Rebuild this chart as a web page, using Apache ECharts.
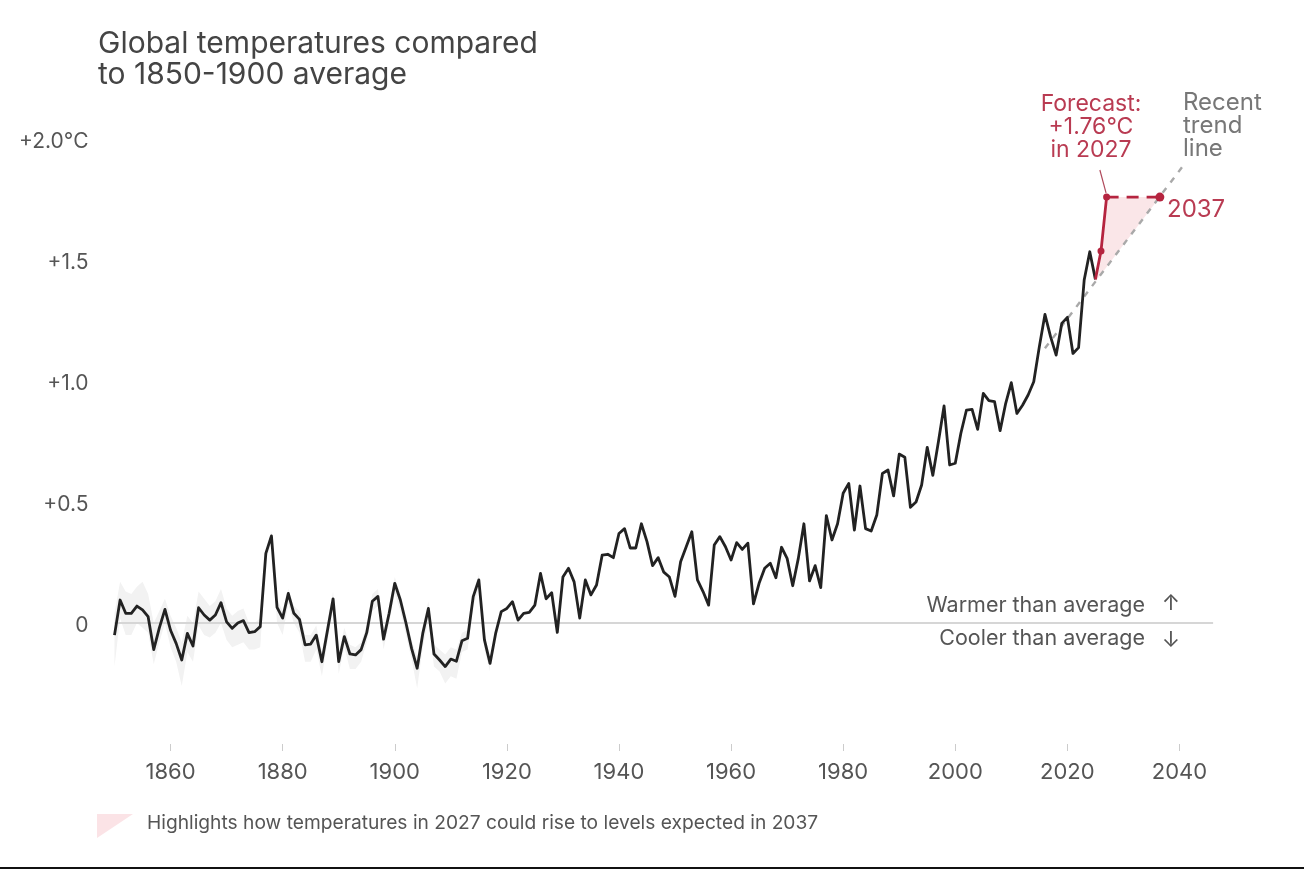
<!DOCTYPE html>
<html>
<head>
<meta charset="utf-8">
<title>Global temperatures</title>
<script src="https://cdn.jsdelivr.net/npm/echarts@6/dist/echarts.min.js"></script>
<style>
html, body { margin: 0; padding: 0; background: #fff; }
#chart { width: 1304px; height: 869px; }
</style>
</head>
<body>
<div id="chart"></div>
<script>
const firstYear = 1850;
// yearly anomaly
const temps = [
    -0.05, 0.095, 0.04, 0.04, 0.07, 0.054, 0.026, -0.11, -0.02, 0.056,
    -0.03, -0.084, -0.153, -0.043, -0.095, 0.063, 0.033, 0.012, 0.033, 0.084,
    0.005, -0.022, 0, 0.01, -0.04, -0.036, -0.015, 0.288, 0.36, 0.065,
    0.02, 0.122, 0.04, 0.015, -0.09, -0.087, -0.05, -0.16, -0.03, 0.10,
    -0.16, -0.056, -0.128, -0.132, -0.11, -0.04, 0.09, 0.11, -0.067, 0.04,
    0.164, 0.095, 0, -0.105, -0.187, -0.043, 0.06, -0.128, -0.153, -0.18,
    -0.149, -0.158, -0.073, -0.063, 0.109, 0.178, -0.07, -0.167, -0.043, 0.047,
    0.06, 0.088, 0.012, 0.04, 0.044, 0.074, 0.205, 0.10, 0.125, -0.039,
    0.19, 0.226, 0.17, 0.02, 0.178, 0.116, 0.157, 0.28, 0.284, 0.27,
    0.37, 0.39, 0.31, 0.31, 0.41, 0.336, 0.237, 0.27, 0.21, 0.19,
    0.11, 0.253, 0.315, 0.377, 0.178, 0.13, 0.074, 0.322, 0.357, 0.315,
    0.26, 0.332, 0.304, 0.33, 0.079, 0.164, 0.226, 0.247, 0.187, 0.313,
    0.267, 0.154, 0.267, 0.41, 0.174, 0.237, 0.146, 0.444, 0.343, 0.41,
    0.536, 0.577, 0.384, 0.566, 0.39, 0.38, 0.446, 0.618, 0.632, 0.525,
    0.698, 0.685, 0.478, 0.50, 0.57, 0.726, 0.61, 0.75, 0.897, 0.653,
    0.66, 0.784, 0.88, 0.883, 0.80, 0.949, 0.919, 0.915, 0.795, 0.908,
    0.993, 0.866, 0.90, 0.942, 0.997, 1.142, 1.275, 1.183, 1.107, 1.238,
    1.263, 1.114, 1.138, 1.417, 1.534, 1.42
];
// uncertainty band, 1850-1917
const bandHigh = [
    0.04, 0.17, 0.13, 0.12, 0.15, 0.17, 0.12, 0, 0.05, 0.1,
    0.03, -0.02, -0.08, 0.03, 0, 0.13, 0.1, 0.07, 0.09, 0.14,
    0.06, 0.03, 0.05, 0.06, 0, 0, 0.02, 0.3, 0.38, 0.1,
    0.05, 0.14, 0.07, 0.05, -0.05, -0.05, -0.01, -0.12, 0.01, 0.13,
    -0.12, -0.02, -0.09, -0.1, -0.08, -0.01, 0.12, 0.14, -0.03, 0.07,
    0.19, 0.12, 0.03, -0.07, -0.14, -0.01, 0.09, -0.09, -0.11, -0.13,
    -0.1, -0.11, -0.04, -0.03, 0.13, 0.2, -0.04, -0.14
];
const bandLow = [
    -0.18, 0.02, -0.05, -0.05, 0, -0.02, -0.04, -0.17, -0.08, 0,
    -0.1, -0.16, -0.26, -0.12, -0.16, -0.01, -0.05, -0.06, -0.04, 0,
    -0.07, -0.1, -0.09, -0.08, -0.11, -0.11, -0.1, 0.26, 0.33, 0,
    -0.05, 0.08, 0, -0.04, -0.16, -0.16, -0.11, -0.22, -0.08, 0.06,
    -0.21, -0.1, -0.19, -0.19, -0.16, -0.08, 0.05, 0.07, -0.11, 0,
    0.12, 0.05, -0.05, -0.15, -0.27, -0.1, 0.01, -0.18, -0.2, -0.25,
    -0.22, -0.23, -0.12, -0.11, 0.07, 0.14, -0.11, -0.2
];
const forecast = [[2025, 1.42], [2026, 1.537], [2027, 1.76]];
const forecastLevel = [[2027, 1.76], [2036.5, 1.76]];
const leader = [[2025.8, 1.872], [2026.9, 1.777]];
const trend = [[2016, 1.135], [2041, 1.9]];
const highlight = [[2025, 1.42], [2026, 1.537], [2027, 1.76], [2036.5, 1.76], [2025, 1.41]];
const zeroLine = [[1850, 0], [2046, 0]];
const xTicks = [1860, 1880, 1900, 1920, 1940, 1960, 1980, 2000, 2020, 2040];
const yTicks = [0, 0.5, 1, 1.5, 2];
const yTickLabels = ['0', '+0.5', '+1.0', '+1.5', '+2.0°C'];

const FONT = 'Inter, "Noto Sans", sans-serif';
const TEXT = '#555555';
const RED = '#b5243f';

const chart = echarts.init(document.getElementById('chart'));
const tempData = temps.map((v, i) => [firstYear + i, v]);

function noteText(x, y, text, color, align, size) {
    return {
        type: 'text', x: x, y: y,
        style: {
            text: text, fill: color, font: (size || 23) + 'px ' + FONT,
            align: align, verticalAlign: 'middle', lineHeight: 23
        }
    };
}

chart.setOption({
    animation: false,
    title: {
        text: 'Global temperatures compared\nto 1850-1900 average',
        left: 98, top: 28, padding: 0,
        textStyle: { color: '#444', fontFamily: FONT, fontSize: 30, fontWeight: 'normal', lineHeight: 31 }
    },
    grid: { left: 114.5, top: 139, width: 1098.6, height: 605 },
    xAxis: {
        type: 'value', min: 1850, max: 2046,
        splitLine: { show: false },
        axisLine: { show: false, onZero: false },
        axisTick: { show: true, length: 7, customValues: xTicks, lineStyle: { color: '#cccccc' } },
        axisLabel: {
            customValues: xTicks, color: TEXT, fontFamily: FONT, fontSize: 22, margin: 17,
            formatter: v => String(v)
        }
    },
    yAxis: {
        type: 'value', min: -0.5, max: 2,
        splitLine: { show: false },
        axisLine: { show: false },
        axisTick: { show: false },
        axisLabel: {
            customValues: yTicks, color: TEXT, fontFamily: FONT, fontSize: 21, margin: 26,
            formatter: v => '{v|' + yTickLabels[yTicks.indexOf(v)] + '}',
            rich: { v: { color: TEXT, fontFamily: FONT, fontSize: 21, padding: [6, 0, 0, 0] } }
        }
    },
    series: [
        {
            // grey band around the early years
            type: 'custom', silent: true, z: 1, data: [[1850, 0]],
            renderItem: function (params, api) {
                const top = bandHigh.map((v, i) => api.coord([firstYear + i, v]));
                const bottom = bandLow.map((v, i) => api.coord([firstYear + i, v])).reverse();
                return { type: 'polygon', shape: { points: top.concat(bottom) }, style: { fill: '#f2f2f2' } };
            }
        },
        {
            // pink triangle
            type: 'custom', silent: true, z: 1, data: [[2025, 1.42]],
            renderItem: function (params, api) {
                return {
                    type: 'polygon',
                    shape: { points: highlight.map(p => api.coord(p)) },
                    style: { fill: '#fae6e8' }
                };
            }
        },
        {
            type: 'line', data: zeroLine, symbol: 'none', z: 2, silent: true,
            lineStyle: { color: '#d6d6d6', width: 2 }
        },
        {
            type: 'line', data: trend, symbol: 'none', z: 3, silent: true,
            lineStyle: { color: '#a9a9a9', width: 2.4, type: [6, 7] }
        },
        {
            type: 'line', data: tempData, symbol: 'none', z: 4, silent: true,
            lineStyle: { color: '#222222', width: 2.8, join: 'round' }
        },
        {
            type: 'line', data: forecast, symbol: 'none', z: 5, silent: true,
            lineStyle: { color: RED, width: 2.8 }
        },
        {
            type: 'line', data: forecastLevel, symbol: 'none', z: 5, silent: true,
            lineStyle: { color: RED, width: 2.6, type: [12, 8] }
        },
        {
            type: 'line', data: leader, symbol: 'none', z: 5, silent: true,
            lineStyle: { color: '#b04a5c', width: 1.2 }
        },
        {
            type: 'scatter', z: 6, silent: true, symbolSize: 7,
            data: [[2026, 1.537], [2027, 1.76]], itemStyle: { color: RED, opacity: 1 }
        },
        {
            type: 'scatter', z: 6, silent: true, symbolSize: 9,
            data: [[2036.5, 1.76]], itemStyle: { color: RED, opacity: 1 }
        }
    ],
    graphic: [
        noteText(1091, 127, 'Forecast:\n+1.76°C\nin 2027', '#b93b52', 'center'),
        noteText(1183, 126, 'Recent\ntrend\nline', '#777777', 'left', 24),
        noteText(1167, 210, '2037', '#b93b52', 'left', 24),
        noteText(1145, 606, 'Warmer than average', TEXT, 'right', 21.5),
        noteText(1145, 639, 'Cooler than average', TEXT, 'right', 21.5),
        noteText(1171, 603, '↑', TEXT, 'center', 22),
        noteText(1171, 640, '↓', TEXT, 'center', 22),
        noteText(147, 823, 'Highlights how temperatures in 2027 could rise to levels expected in 2037', TEXT, 'left', 19.2),
        {
            type: 'polygon',
            shape: { points: [[97, 814], [133, 814], [97, 838]] },
            style: { fill: '#fbe3e6' }
        },
        {
            type: 'rect',
            shape: { x: 0, y: 867, width: 1304, height: 2 },
            style: { fill: '#111111' }
        }
    ]
});
</script>
</body>
</html>
